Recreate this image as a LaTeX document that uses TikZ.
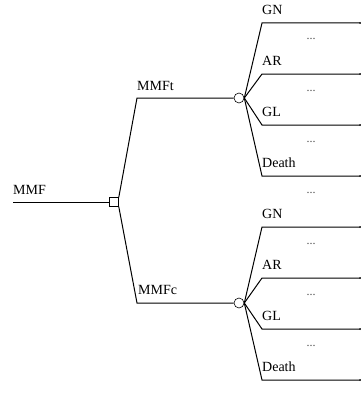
\documentclass[tikz,border=0pt]{standalone}
\usepackage{fontspec}
\setmainfont{Liberation Serif}
\usetikzlibrary{positioning,calc}

\tikzset{
  branch/.style={line width=1pt},
  lbl/.style={anchor=base west, inner sep=0pt, font=\fontsize{14}{16}\selectfont},
  dotlbl/.style={anchor=base, inner sep=0pt, text=black!70, font=\fontsize{12}{14}\selectfont},
  decision/.style={draw, line width=0.6pt, fill=white, minimum size=9pt, inner sep=0pt},
  chance/.style={circle, draw, line width=0.6pt, fill=white, minimum size=10pt, inner sep=0pt},
}

\begin{document}
\begin{tikzpicture}[x=1pt, y=-1pt]
    \useasboundingbox (0,0) rectangle (361,396);

    % Decision node
    \coordinate (root) at (13,202);
    \node[decision] (dec) at (114,202) {};
    \node[lbl] (mmf) at (13,194) {MMF};
    \draw[branch] (root) -- (dec);

    % Chance nodes
    \node[chance] (cu) at (239,98) {};
    \node[chance] (cl) at (239,303) {};
    \coordinate (ku) at (137,98);
    \coordinate (kl) at (137,303);
    \draw[branch] (dec.north east) -- (ku) -- (cu);
    \draw[branch] (dec.south east) -- (kl) -- (cl);
    \node[lbl] (mmft) at (137,90) {MMFt};
    \node[lbl] (mmfc) at (138,294) {MMFc};

    % Outcomes
    \foreach \c/\y in {cu/23, cl/227} {
        \foreach \lab [count=\i from 0] in {GN, AR, GL, Death} {
            \coordinate (\c-s\i) at (262,\y+51*\i);
            \coordinate (\c-e\i) at (360,\y+51*\i);
            \draw[branch] (\c.east) -- (\c-s\i) -- (\c-e\i);
            \fill (\c-e\i) circle (1);
            \node[lbl] (\c-l\i) at ($(\c-s\i)+(0,-8.5)$) {\lab};
        }
    }

    % Dots
    \foreach \y in {40,91,142,193,244,295,346}
        \node[dotlbl] (d\y) at (311,\y) {...};
\end{tikzpicture}
\end{document}
